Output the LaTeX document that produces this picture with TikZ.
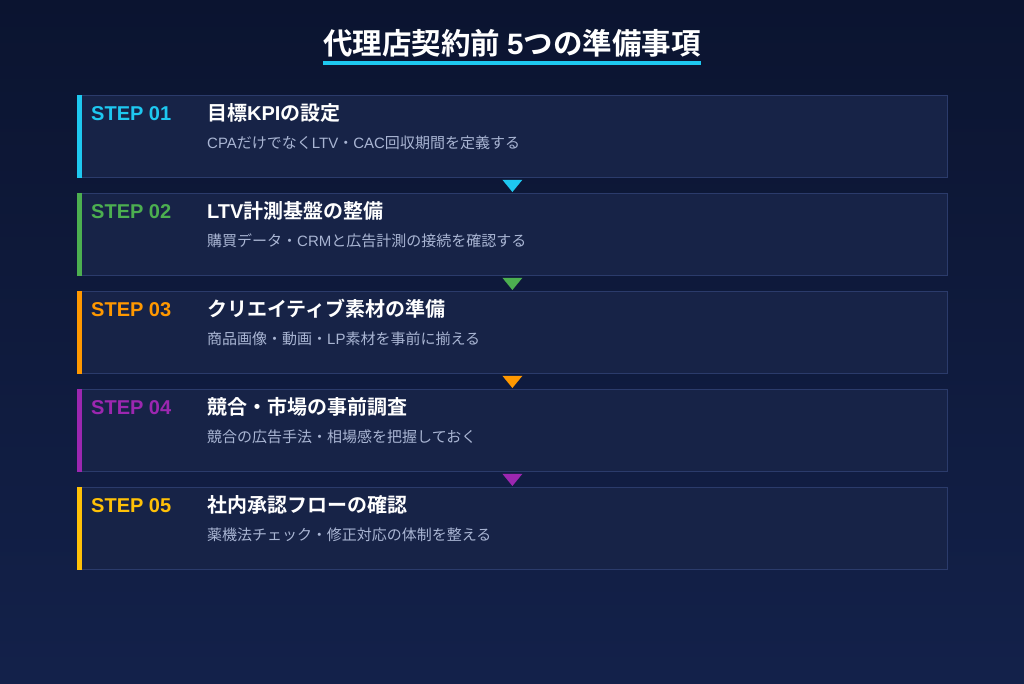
\documentclass[tikz,border=0pt]{standalone}
\usepackage{fontspec}
\setmainfont{Noto Sans CJK JP}
\newfontfamily\jpb{Noto Sans CJK JP Bold}
\newfontfamily\jpr{Noto Sans CJK JP}
\newfontfamily\latb{Liberation Sans}[BoldFont=* Bold]
\newfontfamily\latr{Liberation Sans}
\newcommand{\lb}[1]{{\latb\bfseries #1}}
\newcommand{\lr}[1]{{\latr #1}}
\usetikzlibrary{positioning}
\definecolor{bgtop}{HTML}{0B1430}
\definecolor{bgbot}{HTML}{13214A}
\definecolor{boxfill}{HTML}{172347}
\definecolor{boxline}{HTML}{2B3B6B}
\definecolor{subtxt}{HTML}{A9B5D3}
\definecolor{cA}{HTML}{1EC8F0}
\definecolor{cB}{HTML}{4CAF50}
\definecolor{cC}{HTML}{FF9800}
\definecolor{cD}{HTML}{9C27B0}
\definecolor{cE}{HTML}{FFC107}
\tikzset{
  stepbox/.style={draw=boxline, line width=0.8pt, fill=boxfill, minimum width=870pt, minimum height=82pt, anchor=north west, inner sep=0pt},
  steplbl/.style={anchor=base west, inner sep=0pt, font=\latb\bfseries\fontsize{20}{20}\selectfont},
  steptitle/.style={anchor=base west, inner sep=0pt, text=white, font=\jpb\fontsize{20}{20}\selectfont},
  stepsub/.style={anchor=base west, inner sep=0pt, text=subtxt, font=\jpr\fontsize{15}{15}\selectfont}
}
\begin{document}
\begin{tikzpicture}[x=1pt,y=-1pt]
\shade[top color=bgtop, bottom color=bgbot] (0,0) rectangle (1024,683);
\useasboundingbox (0,0) rectangle (1024,683);
\node[anchor=base, inner sep=0pt, text=white, font=\jpb\fontsize{29.5}{30}\selectfont] (title) at (512,54) {代理店契約前 \lb{5}つの準備事項};
\fill[cA] (title.west |- 0,61) rectangle (title.east |- 0,64.5);
\foreach \i/\col/\ttl/\sub [count=\k from 0] in {
  01/cA/目標\lb{KPI}の設定/\lr{CPA}だけでなく\lr{LTV}・\lr{CAC}回収期間を定義する,
  02/cB/\lb{LTV}計測基盤の整備/購買データ・\lr{CRM}と広告計測の接続を確認する,
  03/cC/クリエイティブ素材の準備/商品画像・動画・\lr{LP}素材を事前に揃える,
  04/cD/競合・市場の事前調査/競合の広告手法・相場感を把握しておく,
  05/cE/社内承認フローの確認/薬機法チェック・修正対応の体制を整える}{
  \node[stepbox] (box\i) at (77,95+98*\k) {};
  \fill[\col] (box\i.north west) rectangle ([xshift=4.5pt]box\i.south west);
  \node[steplbl, text=\col] (lbl\i) at (91,120.5+98*\k) {STEP \i};
  \node[steptitle] (ttl\i) at (207,120.5+98*\k) {\ttl};
  \node[stepsub] (sub\i) at (207,148.5+98*\k) {\sub};
}
\foreach \a/\b/\col in {01/02/cA,02/03/cB,03/04/cC,04/05/cD}{
  \fill[\col] ([xshift=-10pt,yshift=-2pt]box\a.south) -- ([xshift=10pt,yshift=-2pt]box\a.south) -- ([yshift=1pt]box\b.north) -- cycle;
}
\end{tikzpicture}
\end{document}
